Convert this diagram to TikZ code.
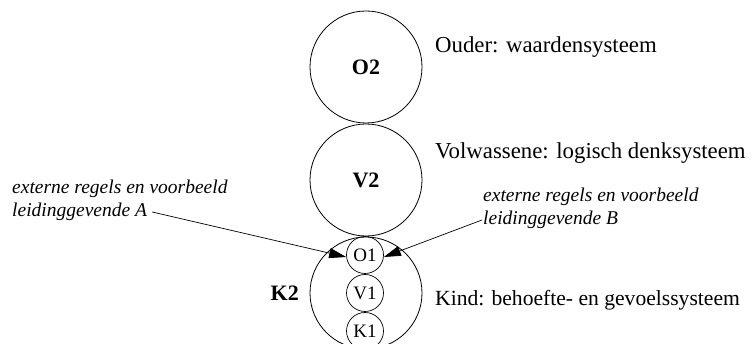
\documentclass[tikz,border=0pt]{standalone}
\usepackage{fontspec}
\setmainfont{Liberation Serif}
\usetikzlibrary{arrows.meta}
\begin{document}
\begin{tikzpicture}[x=1pt,y=-1pt,
  bigcircle/.style={draw, circle, line width=0.8pt, minimum size=112pt, inner sep=0pt, font=\fontsize{22}{26}\selectfont\bfseries},
  smallcircle/.style={draw, circle, line width=0.7pt, minimum size=37pt, inner sep=0pt, font=\fontsize{19}{22}\selectfont},
  desc/.style={anchor=west, inner sep=0pt, font=\fontsize{22.8}{27}\selectfont},
  note/.style={inner sep=0pt, font=\fontsize{19.5}{24}\selectfont\itshape},
  influence/.style={line width=0.7pt, -{Triangle[length=17pt, width=10pt]}}
]
\useasboundingbox (0,0) rectangle (753,344);
\clip (0,0) rectangle (753,344);

% three stacked ego states of the adult level
\node[bigcircle] (o2) at (366,67) {O2};
\node[bigcircle] (v2) at (366,180) {V2};
\node[bigcircle] (k2) at (366,293) {};
\node[anchor=east, inner sep=0pt, font=\fontsize{22}{26}\selectfont\bfseries] (k2lab) at (299,293) {K2};

% inner ego states of the child
\node[smallcircle] (o1) at (365,255) {O1};
\node[smallcircle] (v1) at (365,293) {V1};
\node[smallcircle] (k1) at (365,331) {K1};

% descriptions
\node[desc] (dO) at (435,47) {Ouder: waardensysteem};
\node[desc] (dV) at (435,153) {Volwassene: logisch denksysteem};
\node[desc, font=\fontsize{21.6}{26}\selectfont] (dK) at (435,300) {Kind: behoefte- en gevoelssysteem};

% external influences
\node[note, anchor=west] (a1) at (12,189) {externe regels en voorbeeld};
\node[note, anchor=west] (a2) at (12,212) {leidinggevende A};
\node[note, anchor=west] (b1) at (483,197) {externe regels en voorbeeld};
\node[note, anchor=west] (b2) at (483,220) {leidinggevende B};

\draw[influence] ([xshift=5pt]a2.east) -- ([yshift=-2pt]o1.west);
\draw[influence] ([xshift=-1pt]b2.west) -- ([yshift=-2pt]o1.east);
\end{tikzpicture}
\end{document}
